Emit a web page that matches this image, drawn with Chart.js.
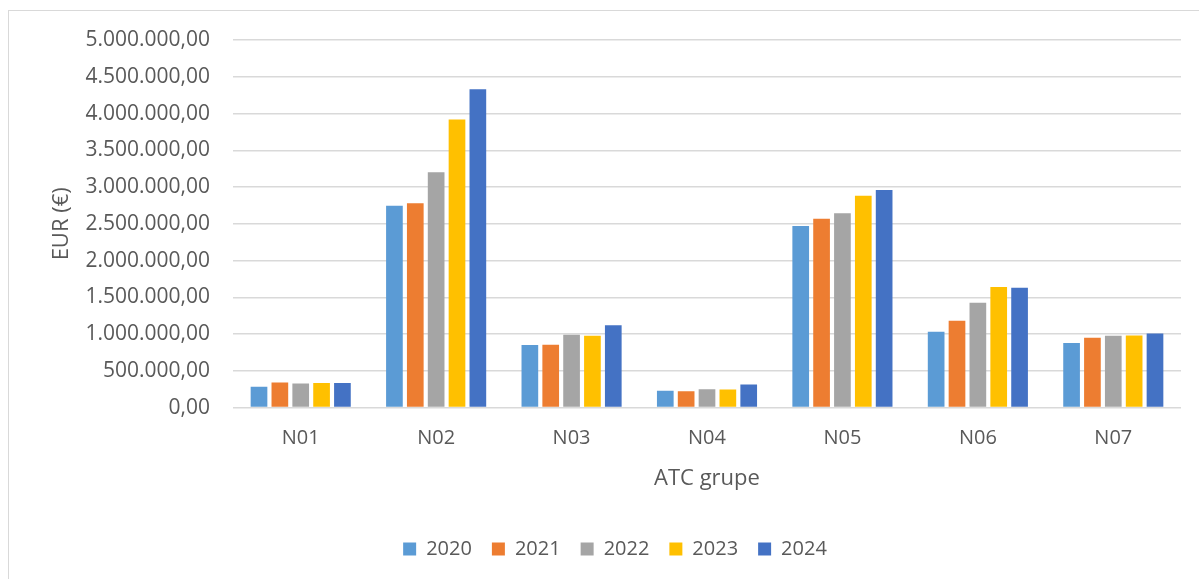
<!DOCTYPE html>
<html>
<head>
<meta charset="utf-8">
<script src="https://cdn.jsdelivr.net/npm/chart.js@4"></script>
<style>
  html, body { margin: 0; padding: 0; background: #fff; overflow: hidden; }
  #wrap { position: absolute; left: 8px; top: 10px; width: 1200px; height: 600px; border-left: 1px solid #d9d9d9; border-top: 1px solid #d9d9d9; }
  #c { display: block; }
</style>
</head>
<body>
<div id="wrap"><canvas id="c" width="1182" height="568"></canvas></div>
<script>
// ATC groups and yearly totals (EUR)
const groups = ['N01', 'N02', 'N03', 'N04', 'N05', 'N06', 'N07'];
const years = ['2020', '2021', '2022', '2023', '2024'];
const v2020 = [282000, 2744000, 850000, 228000, 2470000, 1031000, 877000];
const v2021 = [341000, 2780000, 854000, 223000, 2567000, 1180000, 950000];
const v2022 = [327000, 3200000, 990000, 250000, 2643000, 1425000, 977000];
const v2023 = [336000, 3920000, 977000, 245000, 2880000, 1640000, 980000];
const v2024 = [336000, 4330000, 1120000, 313000, 2960000, 1630000, 1008000];
const colors = ['#5b9bd5', '#ed7d31', '#a5a5a5', '#ffc000', '#4472c4'];

function fmt(n) {
  const s = Math.round(n).toString().replace(/\B(?=(\d{3})+(?!\d))/g, '.');
  return s + ',00';
}

const series = [v2020, v2021, v2022, v2023, v2024];
const ctx = document.getElementById('c');
const txt = '#595959';
const fam = 'Open Sans';

new Chart(ctx, {
  type: 'bar',
  data: {
    labels: groups,
    datasets: series.map((d, i) => ({
      label: years[i],
      data: d,
      backgroundColor: colors[i],
      barPercentage: 0.8,
      categoryPercentage: 0.77
    }))
  },
  options: {
    responsive: false,
    animation: false,
    layout: { padding: { left: 40, right: 10, top: 29, bottom: 10 } },
    plugins: {
      legend: {
        display: true,
        position: 'bottom',
        labels: {
          color: txt,
          font: { family: fam, size: 20 },
          boxWidth: 13,
          boxHeight: 13,
          padding: 20
        }
      },
      tooltip: { enabled: false }
    },
    scales: {
      x: {
        grid: { display: false },
        border: { display: false },
        ticks: { color: txt, font: { family: fam, size: 20 }, padding: 11 },
        title: { display: true, text: 'ATC grupe', color: txt, font: { family: fam, size: 22 }, padding: { top: 4, bottom: 27 } }
      },
      y: {
        min: 0,
        max: 5000000,
        ticks: { stepSize: 500000, color: txt, font: { family: fam, size: 21 }, padding: 23, callback: v => fmt(v) },
        grid: { color: '#d9d9d9', lineWidth: 1.5, drawTicks: false },
        border: { display: false },
        title: { display: true, text: 'EUR (€)', color: txt, font: { family: fam, size: 22 }, padding: 0 },
        afterFit: s => { s.width = 184; s.paddingTop = 0; s.paddingBottom = 0; }
      }
    }
  }
});
</script>
</body>
</html>
